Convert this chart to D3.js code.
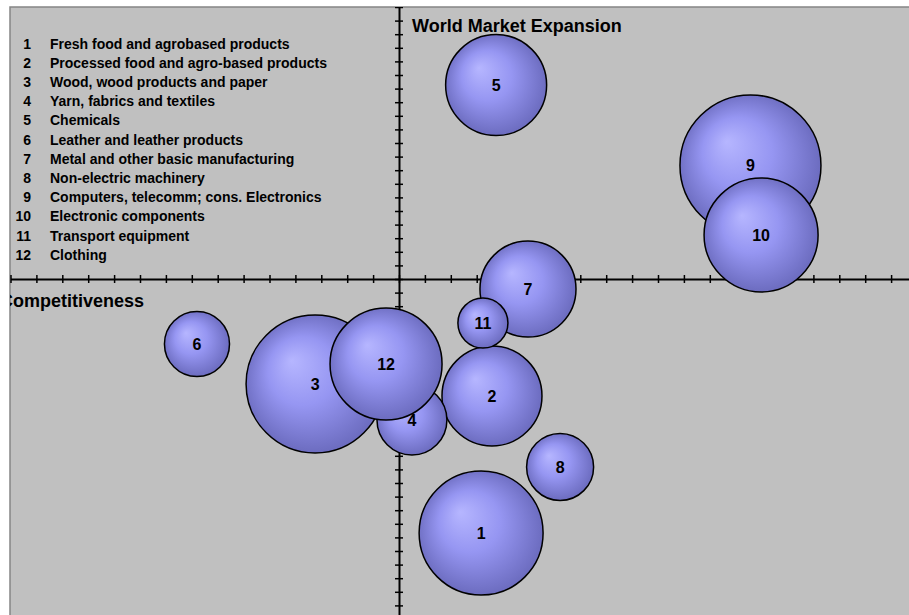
<!DOCTYPE html>
<html>
<head>
<meta charset="utf-8">
<script src="https://cdn.jsdelivr.net/npm/d3@7"></script>
<style>
  html, body { margin: 0; padding: 0; background: #ffffff; }
  svg { display: block; }
  text { font-family: Arial, "Liberation Sans", Helvetica, sans-serif; font-weight: bold; fill: #000; }
</style>
</head>
<body>
<svg id="chart" width="909" height="615"></svg>
<script>
// Sector numbers and names
const sectorIds = [1, 2, 3, 4, 5, 6, 7, 8, 9, 10, 11, 12];
const sectorNames = [
  "Fresh food and agrobased products",
  "Processed food and agro-based products",
  "Wood, wood products and paper",
  "Yarn, fabrics and textiles",
  "Chemicals",
  "Leather and leather products",
  "Metal and other basic manufacturing",
  "Non-electric machinery",
  "Computers, telecomm; cons. Electronics",
  "Electronic components",
  "Transport equipment",
  "Clothing"
];
// Competitiveness (x), world market expansion (y), bubble size
const competitiveness = [3.17, 3.59, -3.24, 0.50, 3.75, -7.80, 4.98, 6.22, 13.57, 13.98, 3.24, -0.50];
const marketExpansion = [-18.68, -8.60, -7.72, -10.37, 14.26, -4.78, -0.74, -13.82, 8.35, 3.24, -3.24, -6.25];
const bubbleSize = [77.3, 50.3, 95.8, 24.6, 51.3, 21.3, 46.4, 22.6, 100, 65.4, 12.6, 63.1];

// Axis extents and minor tick values
const xDomain = [-15, 20];
const yDomain = [-25, 20];
const xTickValues = d3.range(-15, 21);
const yTickValues = d3.range(-25, 21);

const xAxisTitle = "Competitiveness";
const yAxisTitle = "World Market Expansion";

const svg = d3.select("#chart");
const W = 909, H = 615;
const plot = { left: 10, top: 7 };
const unitX = 25.9, unitY = 13.6;
const originX = 399, originY = 279;

const x = d3.scaleLinear().domain(xDomain)
  .range([originX + xDomain[0] * unitX, originX + xDomain[1] * unitX]);
const y = d3.scaleLinear().domain(yDomain)
  .range([originY - yDomain[0] * unitY, originY - yDomain[1] * unitY]);
const r = d3.scaleSqrt().domain([0, 100]).range([0, 70.5]);

const data = sectorIds.map((id, i) => ({
  id, name: sectorNames[i],
  x: competitiveness[i], y: marketExpansion[i], size: bubbleSize[i]
}));

// Shaded bubble fill
const defs = svg.append("defs");
const grad = defs.append("radialGradient")
  .attr("id", "bubbleFill")
  .attr("cx", "50%").attr("cy", "50%").attr("r", "55%")
  .attr("fx", "33%").attr("fy", "33%");
grad.append("stop").attr("offset", "0%").attr("stop-color", "#b6b6ff");
grad.append("stop").attr("offset", "45%").attr("stop-color", "#9696f2");
grad.append("stop").attr("offset", "100%").attr("stop-color", "#6666b8");

defs.append("clipPath").attr("id", "plotClip")
  .append("rect").attr("x", plot.left).attr("y", plot.top)
  .attr("width", W - plot.left).attr("height", H - plot.top);

// Plot area
svg.append("rect")
  .attr("x", plot.left).attr("y", plot.top)
  .attr("width", W - plot.left + 5).attr("height", H - plot.top + 5)
  .attr("fill", "#c0c0c0")
  .attr("stroke", "#858585").attr("stroke-width", 1.5);

const g = svg.append("g").attr("clip-path", "url(#plotClip)");

// Axis titles
g.append("text")
  .attr("x", 0).attr("y", 307)
  .style("font-size", "18px")
  .text(xAxisTitle);
g.append("text")
  .attr("x", 412).attr("y", 32)
  .style("font-size", "18px")
  .text(yAxisTitle);

// Legend of sector numbers
const legend = g.append("g");
const rows = legend.selectAll("g").data(data).join("g")
  .attr("transform", (d, i) => `translate(0, ${48.5 + i * 19.2})`);
rows.append("text")
  .attr("x", 31).attr("text-anchor", "end")
  .style("font-size", "14px")
  .text(d => d.id);
rows.append("text")
  .attr("x", 50)
  .style("font-size", "14px")
  .text(d => d.name);

// Crossing axes with minor ticks through the origin
const xAxis = d3.axisBottom(x).tickValues(xTickValues).tickFormat("").tickSizeOuter(0);
const yAxis = d3.axisLeft(y).tickValues(yTickValues).tickFormat("").tickSizeOuter(0);

const gx = g.append("g").attr("transform", `translate(0, ${y(0)})`).call(xAxis);
const gy = g.append("g").attr("transform", `translate(${x(0)}, 0)`).call(yAxis);
[gx, gy].forEach(a => {
  a.select(".domain").attr("stroke", "#000").attr("stroke-width", 2);
  a.selectAll(".tick line").attr("stroke", "#000").attr("stroke-width", 1.5);
});
gx.selectAll(".tick line").attr("y1", -4).attr("y2", 4);
gy.selectAll(".tick line").attr("x1", -4).attr("x2", 4);

// Bubbles in series order, labels on top
g.append("g").selectAll("circle").data(data).join("circle")
  .attr("cx", d => x(d.x))
  .attr("cy", d => y(d.y))
  .attr("r", d => r(d.size))
  .attr("fill", "url(#bubbleFill)")
  .attr("stroke", "#000")
  .attr("stroke-width", 1.5);

g.append("g").selectAll("text").data(data).join("text")
  .attr("x", d => x(d.x))
  .attr("y", d => y(d.y))
  .attr("text-anchor", "middle")
  .attr("dy", "0.35em")
  .style("font-size", "16px")
  .text(d => d.id);
</script>
</body>
</html>
